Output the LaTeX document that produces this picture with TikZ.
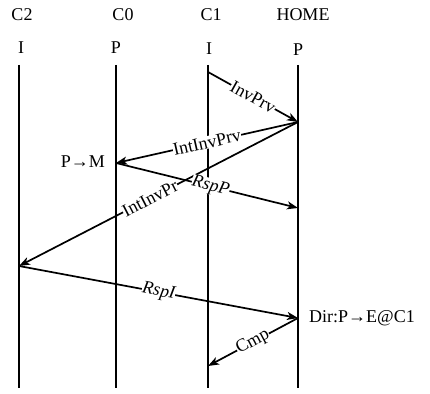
\documentclass[tikz,border=0pt]{standalone}
\usepackage{fontspec}
\setmainfont{Liberation Serif}
\usetikzlibrary{arrows.meta}
\begin{document}
\begin{tikzpicture}[x=1pt,y=-1pt,
  every node/.style={font=\fontsize{18}{21}\selectfont, inner sep=1pt},
  life/.style={line width=1.9pt},
  msg/.style={line width=1.7pt,-{Stealth[length=11pt,width=8pt,inset=3pt]}},
  lbl/.style={sloped, fill=white, inner sep=0.3pt}]
\useasboundingbox (0,0) rectangle (430,393);
% headers
\node (hC2) at (22,15) {C2};
\node (hC0) at (123,15) {C0};
\node (hC1) at (211,15) {C1};
\node (hH) at (303,15) {HOME};
\node (sC2) at (21,48) {I};
\node (sC0) at (116,48) {P};
\node (sC1) at (209,49) {I};
\node (sH) at (298,50) {P};
% lifelines
\coordinate (t2) at (19,65);  \coordinate (b2) at (19,388);
\coordinate (t0) at (116,65); \coordinate (b0) at (116,388);
\coordinate (t1) at (208,65); \coordinate (b1) at (208,388);
\coordinate (tH) at (298,65); \coordinate (bH) at (298,388);
\draw[life] (t2) -- (b2);
\draw[life] (t0) -- (b0);
\draw[life] (t1) -- (b1);
\draw[life] (tH) -- (bH);
% event points
\coordinate (a1) at (208,72);
\coordinate (a2) at (298,122);
\coordinate (a3) at (116,163);
\coordinate (a4) at (298,208);
\coordinate (a5) at (19,266);
\coordinate (a6) at (298,318);
\coordinate (a7) at (208,366);
% messages
\draw[msg] (a1) -- node[lbl] {InvPrv} (a2);
\draw[msg] (a2) -- node[lbl] {IntInvPrv} (a3);
\draw[msg] (a2) -- node[lbl,pos=0.53] {IntInvPr} (a5);
\draw[msg] (a3) -- node[lbl,pos=0.52] {\itshape RspP} (a4);
\draw[msg] (a5) -- node[lbl] {\itshape RspI} (a6);
\draw[msg] (a6) -- node[lbl] {Cmp} (a7);
% state notes
\node[anchor=east] (pm) at (106,162) {P→M};
\node[anchor=west] (dir) at (308,318) {Dir:P→E@C1};
\end{tikzpicture}
\end{document}
